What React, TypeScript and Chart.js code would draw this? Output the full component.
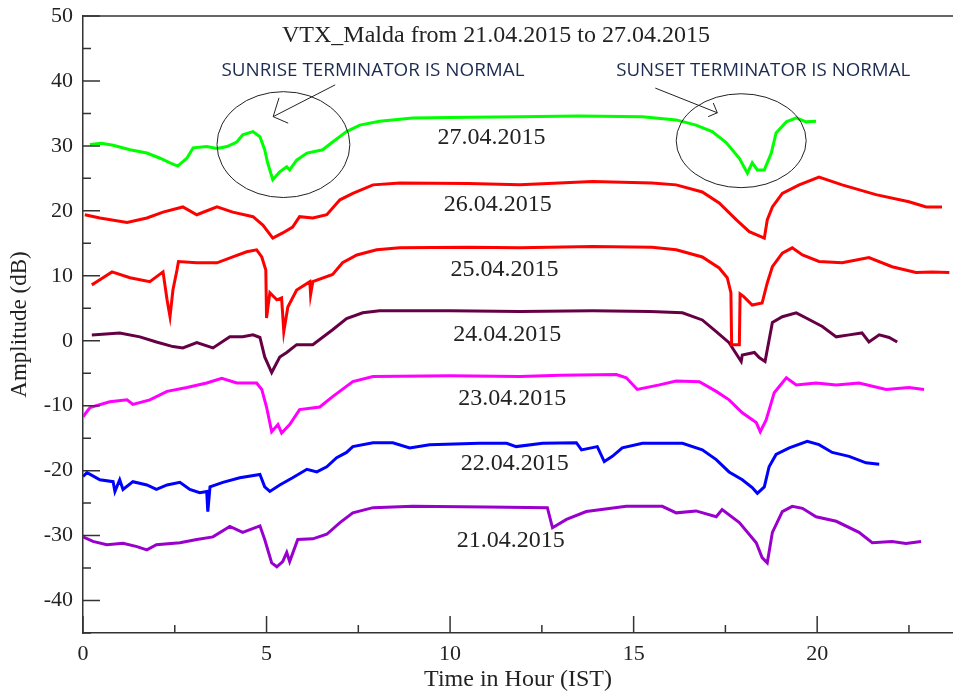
import React, { useEffect, useRef } from "react";
import { Chart, registerables } from "chart.js";

Chart.register(...registerables);

type Pt = [number, number];

const day27: Pt[] = [[0.19,30.2],[0.5,30.4],[0.82,30.1],[1.28,29.4],[1.74,28.9],[2.1,28.1],[2.37,27.4],[2.58,26.9],[2.83,28.1],[3.0,29.7],[3.37,29.9],[3.65,29.6],[3.92,29.9],[4.19,30.6],[4.35,31.7],[4.63,32.2],[4.82,31.4],[4.95,29.4],[5.03,27.4],[5.17,24.8],[5.36,26.0],[5.55,26.8],[5.63,26.3],[5.82,27.8],[6.1,28.9],[6.53,29.4],[6.8,30.6],[7.18,32.2],[7.54,33.2],[8.08,33.8],[8.98,34.3],[10.5,34.4],[11.9,34.5],[13.5,34.6],[15.24,34.5],[16.16,34.0],[16.7,33.2],[17.14,32.2],[17.52,30.5],[17.88,28.1],[18.1,25.8],[18.23,27.4],[18.37,26.3],[18.56,26.3],[18.75,28.9],[18.88,32.0],[19.16,33.7],[19.43,34.3],[19.7,33.7],[19.97,33.8]];

const day26: Pt[] = [[0.05,19.4],[0.46,18.9],[1.2,18.2],[1.74,18.9],[2.18,19.8],[2.72,20.6],[3.1,19.4],[3.65,20.6],[4.08,19.8],[4.63,19.1],[4.9,17.8],[5.17,15.8],[5.44,16.6],[5.71,17.5],[5.9,19.1],[6.26,18.9],[6.64,19.4],[7.0,21.7],[7.35,22.7],[7.9,24.0],[8.63,24.3],[10.5,24.2],[11.9,24.0],[13.88,24.5],[15.5,24.3],[16.16,24.0],[16.87,22.9],[17.33,21.2],[17.8,18.6],[18.15,16.8],[18.56,15.8],[18.64,18.6],[18.78,20.6],[19.05,22.7],[19.51,24.0],[20.05,25.2],[20.68,24.0],[21.6,22.5],[22.5,21.4],[22.97,20.6],[23.4,20.6]];

const day25: Pt[] = [[0.24,8.6],[0.46,9.4],[0.79,10.6],[1.28,9.7],[1.82,9.1],[2.18,10.6],[2.29,6.3],[2.37,3.7],[2.45,7.8],[2.56,10.9],[2.6,12.2],[3.1,12.0],[3.65,12.0],[4.08,12.9],[4.46,13.7],[4.73,14.0],[4.87,12.9],[4.98,10.9],[5.0,3.5],[5.09,7.4],[5.28,6.3],[5.41,6.6],[5.47,1.4],[5.58,5.2],[5.82,7.8],[6.18,9.1],[6.2,7.1],[6.26,9.1],[6.8,10.2],[7.07,12.0],[7.46,13.2],[8.0,14.0],[8.63,14.3],[10.5,14.4],[11.9,14.3],[13.88,14.5],[15.5,14.4],[16.16,14.0],[16.87,12.9],[17.33,11.2],[17.55,9.7],[17.65,7.4],[17.67,-0.6],[17.88,-0.6],[17.9,7.2],[18.0,6.8],[18.23,5.5],[18.5,5.8],[18.64,8.9],[18.78,11.4],[19.05,13.5],[19.32,14.3],[19.6,13.2],[20.05,12.2],[20.68,12.0],[21.41,12.8],[22.04,11.4],[22.69,10.5],[23.13,10.6],[23.6,10.5]];

const day24: Pt[] = [[0.24,0.9],[1.0,1.2],[1.55,0.6],[2.0,-0.2],[2.45,-0.9],[2.72,-1.1],[3.1,-0.3],[3.54,-1.1],[4.0,0.6],[4.35,0.6],[4.63,0.9],[4.82,0.5],[4.95,-2.5],[5.14,-4.9],[5.36,-2.5],[5.55,-1.8],[5.82,-0.6],[6.26,-0.6],[6.8,1.7],[7.18,3.4],[7.62,4.3],[8.08,4.6],[10.0,4.6],[11.9,4.5],[13.88,4.6],[15.45,4.5],[16.33,4.3],[16.87,3.2],[17.25,1.4],[17.6,-0.3],[17.93,-3.2],[17.96,-2.2],[18.29,-1.8],[18.42,-2.6],[18.58,-3.2],[18.78,2.8],[19.05,3.7],[19.43,4.3],[19.7,3.5],[20.14,2.2],[20.52,0.6],[20.87,0.9],[21.22,1.2],[21.41,-0.2],[21.69,0.9],[21.96,0.5],[22.18,-0.2]];

const day23: Pt[] = [[0.0,-11.7],[0.19,-10.3],[0.73,-9.4],[1.2,-9.1],[1.36,-9.8],[1.82,-9.1],[2.29,-7.8],[2.83,-7.2],[3.37,-6.5],[3.78,-5.8],[4.19,-6.5],[4.73,-6.5],[4.87,-7.5],[5.0,-10.2],[5.14,-14.0],[5.31,-12.9],[5.41,-14.2],[5.63,-12.9],[5.9,-10.6],[6.45,-10.2],[6.8,-8.6],[7.35,-6.3],[7.9,-5.5],[10.0,-5.4],[11.9,-5.5],[13.0,-5.3],[14.53,-5.2],[14.8,-5.7],[15.1,-7.5],[15.7,-6.8],[16.16,-6.2],[16.79,-6.3],[17.25,-7.8],[17.6,-9.1],[17.96,-11.1],[18.34,-12.6],[18.45,-14.0],[18.61,-12.2],[18.83,-8.0],[19.16,-5.7],[19.43,-6.8],[19.97,-6.5],[20.52,-6.8],[21.14,-6.5],[21.88,-7.5],[22.5,-7.2],[22.91,-7.5]];

const day22: Pt[] = [[0.0,-20.9],[0.11,-20.3],[0.46,-21.4],[0.82,-21.7],[0.87,-23.2],[1.0,-21.4],[1.09,-22.9],[1.36,-21.7],[1.74,-22.2],[2.0,-22.9],[2.29,-22.2],[2.64,-21.8],[2.91,-22.9],[3.18,-23.4],[3.37,-23.2],[3.4,-26.3],[3.46,-22.5],[3.81,-21.8],[4.27,-21.1],[4.82,-20.6],[4.95,-22.5],[5.09,-23.2],[5.36,-22.2],[5.71,-21.1],[6.1,-19.8],[6.37,-20.2],[6.64,-19.4],[6.91,-18.0],[7.18,-17.2],[7.35,-16.3],[7.9,-15.7],[8.44,-15.7],[8.9,-16.5],[9.44,-16.0],[10.8,-15.8],[11.54,-15.8],[11.8,-16.3],[12.52,-15.8],[13.44,-15.7],[13.58,-16.8],[14.01,-16.3],[14.2,-18.6],[14.42,-17.8],[14.69,-16.5],[15.24,-15.8],[16.33,-15.8],[16.87,-16.8],[17.25,-18.3],[17.6,-20.2],[17.96,-21.4],[18.23,-22.6],[18.37,-23.5],[18.56,-22.5],[18.69,-19.4],[18.88,-17.5],[19.24,-16.5],[19.73,-15.5],[20.05,-16.0],[20.41,-17.2],[20.87,-17.8],[21.33,-18.8],[21.69,-19.0]];

const day21: Pt[] = [[0.0,-30.2],[0.27,-30.9],[0.65,-31.4],[1.09,-31.2],[1.47,-31.7],[1.74,-32.2],[2.0,-31.4],[2.64,-31.1],[3.1,-30.6],[3.54,-30.2],[4.0,-28.6],[4.35,-29.5],[4.82,-28.5],[4.95,-30.6],[5.14,-34.2],[5.28,-34.8],[5.44,-34.0],[5.55,-32.6],[5.63,-34.0],[5.85,-30.6],[6.26,-30.5],[6.64,-29.8],[7.0,-28.0],[7.35,-26.5],[7.9,-25.7],[8.98,-25.5],[11.0,-25.6],[12.65,-25.7],[12.79,-28.8],[13.17,-27.5],[13.71,-26.3],[14.8,-25.5],[15.78,-25.5],[16.16,-26.5],[16.7,-26.2],[17.25,-27.1],[17.41,-26.0],[17.88,-28.0],[18.34,-31.1],[18.5,-33.4],[18.64,-34.2],[18.78,-29.5],[19.05,-26.3],[19.32,-25.5],[19.6,-25.8],[19.97,-27.1],[20.52,-27.8],[21.14,-29.5],[21.5,-31.1],[22.04,-30.9],[22.42,-31.2],[22.83,-30.9]];

const seriesNames = ["27.04.2015", "26.04.2015", "25.04.2015", "24.04.2015", "23.04.2015", "22.04.2015", "21.04.2015"];
const seriesData = [day27, day26, day25, day24, day23, day22, day21];
const seriesColors = ["#00ff00", "#ff0000", "#ff0000", "#660044", "#ff00ff", "#0000ff", "#9900cc"];
// label anchor per series: [hour, dB]
const labelHours = [11.13, 11.3, 11.48, 11.56, 11.69, 11.76, 11.65];
const labelAmps = [31.3, 20.9, 10.9, 0.9, -9.0, -19.0, -30.8];

const yMajorTicks = [-40, -30, -20, -10, 0, 10, 20, 30, 40, 50];
const yMinorTicks = [-45, -35, -25, -15, -5, 5, 15, 25, 35, 45];
const xMajorTicks = [0, 5, 10, 15, 20];
const xMinorTicks = [2.5, 7.5, 12.5, 17.5, 22.5];

const chartTitle = "VTX_Malda from 21.04.2015 to 27.04.2015";
const sunriseNote = "SUNRISE TERMINATOR IS NORMAL";
const sunsetNote = "SUNSET TERMINATOR IS NORMAL";

const SERIF = "'Liberation Serif', 'Times New Roman', serif";
const SANS = "'Open Sans', 'Liberation Sans', sans-serif";

const decorPlugin = {
  id: "decor",
  afterDraw(chart: any) {
    const { ctx, chartArea: ca, scales } = chart;
    const xs = scales.x;
    const ys = scales.y;
    const X = (h: number) => xs.getPixelForValue(h);
    const Y = (v: number) => ys.getPixelForValue(v);
    ctx.save();
    // frame top line
    ctx.strokeStyle = "#333";
    ctx.lineWidth = 1.5;
    ctx.beginPath();
    ctx.moveTo(ca.left, ca.top);
    ctx.lineTo(ca.right, ca.top);
    ctx.stroke();
    // inner ticks
    ctx.beginPath();
    yMajorTicks.forEach((v) => { const p = Y(v); ctx.moveTo(ca.left, p); ctx.lineTo(ca.left + 17, p); });
    yMinorTicks.forEach((v) => { const p = Y(v); ctx.moveTo(ca.left, p); ctx.lineTo(ca.left + 8, p); });
    xMajorTicks.forEach((h) => { const p = X(h); ctx.moveTo(p, ca.bottom); ctx.lineTo(p, ca.bottom - 17); });
    xMinorTicks.forEach((h) => { const p = X(h); ctx.moveTo(p, ca.bottom); ctx.lineTo(p, ca.bottom - 8); });
    ctx.stroke();

    // title
    ctx.fillStyle = "#222";
    ctx.textAlign = "center";
    ctx.textBaseline = "middle";
    ctx.font = `24px ${SERIF}`;
    ctx.fillText(chartTitle, X(11.25), Y(47.0));

    // date labels
    seriesNames.forEach((n, i) => {
      ctx.fillText(n, X(labelHours[i]), Y(labelAmps[i]));
    });

    // notes
    const fitText = (t: string, cx: number, cy: number, w: number) => {
      ctx.font = `18px ${SANS}`;
      const m = ctx.measureText(t).width;
      ctx.save();
      ctx.translate(cx, cy);
      ctx.scale(w / m, 1);
      ctx.fillStyle = "#1c2b4f";
      ctx.textAlign = "center";
      ctx.textBaseline = "middle";
      ctx.fillText(t, 0, 0);
      ctx.restore();
    };
    fitText(sunriseNote, X(7.9), Y(41.6), 303);
    fitText(sunsetNote, X(18.53), Y(41.6), 294);

    // ellipses
    ctx.strokeStyle = "#222";
    ctx.lineWidth = 1;
    const ell = (h: number, v: number, rh: number, rv: number) => {
      const cx = X(h), cy = Y(v);
      const rx = Math.abs(X(h + rh) - cx), ry = Math.abs(Y(v + rv) - cy);
      ctx.beginPath();
      ctx.ellipse(cx, cy, rx, ry, 0, 0, Math.PI * 2);
      ctx.stroke();
    };
    ell(5.46, 30.2, 1.81, 8.15);
    ell(17.93, 30.8, 1.77, 7.23);

    // arrows
    const arrow = (pts: number[][]) => {
      const [s, t, b1, b2] = pts;
      ctx.beginPath();
      ctx.moveTo(X(s[0]), Y(s[1]));
      ctx.lineTo(X(t[0]), Y(t[1]));
      ctx.moveTo(X(b1[0]), Y(b1[1]));
      ctx.lineTo(X(t[0]), Y(t[1]));
      ctx.lineTo(X(b2[0]), Y(b2[1]));
      ctx.stroke();
    };
    arrow([[6.87, 39.4], [5.18, 34.5], [5.34, 37.4], [5.59, 33.5]]);
    arrow([[15.59, 38.9], [17.28, 35.1], [17.17, 36.6], [17.03, 34.5]]);
    ctx.restore();
  },
};

export default function App() {
  const ref = useRef<HTMLCanvasElement | null>(null);
  useEffect(() => {
    document.body.style.margin = "0";
    const canvas = ref.current;
    if (!canvas) return;
    const chart = new Chart(canvas, {
      type: "line",
      data: {
        datasets: seriesData.map((d, i) => ({
          label: seriesNames[i],
          data: d.map(([x, y]) => ({ x, y })),
          borderColor: seriesColors[i],
          backgroundColor: seriesColors[i],
          borderWidth: 3,
          pointRadius: 0,
          tension: 0,
          fill: false,
        })),
      },
      options: {
        responsive: false,
        animation: false,
        layout: { padding: { top: 16, right: 0, left: 0, bottom: 0 } },
        plugins: { legend: { display: false }, tooltip: { enabled: false }, title: { display: false } },
        scales: {
          x: {
            type: "linear",
            min: 0,
            max: 23.7,
            afterFit: (s: any) => { s.height = 59; s.paddingLeft = 0; s.paddingRight = 0; },
            afterBuildTicks: (s: any) => { s.ticks = xMajorTicks.map((v) => ({ value: v })); },
            grid: { display: false, drawTicks: false },
            border: { display: true, color: "#333", width: 1.5 },
            ticks: { padding: 8, color: "#222", font: { family: SERIF, size: 22 }, maxRotation: 0, autoSkip: false },
            title: { display: true, text: "Time in Hour (IST)", color: "#222", font: { family: SERIF, size: 24, lineHeight: 1 }, padding: { top: 0, bottom: 0 } },
          },
          y: {
            type: "linear",
            min: -45,
            max: 50,
            afterFit: (s: any) => { s.width = 83; s.paddingTop = 0; s.paddingBottom = 0; },
            afterBuildTicks: (s: any) => { s.ticks = yMajorTicks.map((v) => ({ value: v })); },
            grid: { display: false, drawTicks: false },
            border: { display: true, color: "#333", width: 1.5 },
            ticks: { padding: 10, color: "#222", font: { family: SERIF, size: 22 }, autoSkip: false },
            title: { display: true, text: "Amplitude (dB)", color: "#222", font: { family: SERIF, size: 23, lineHeight: 1.2 }, padding: { top: 6, bottom: 0 } },
          },
        },
      },
      plugins: [decorPlugin],
    } as any);
    return () => chart.destroy();
  }, []);
  return (
    <div style={{ position: "absolute", left: 0, top: 0, width: 953, height: 692, background: "#fff" }}>
      <canvas ref={ref} width={953} height={692} style={{ width: 953, height: 692 }} />
    </div>
  );
}
